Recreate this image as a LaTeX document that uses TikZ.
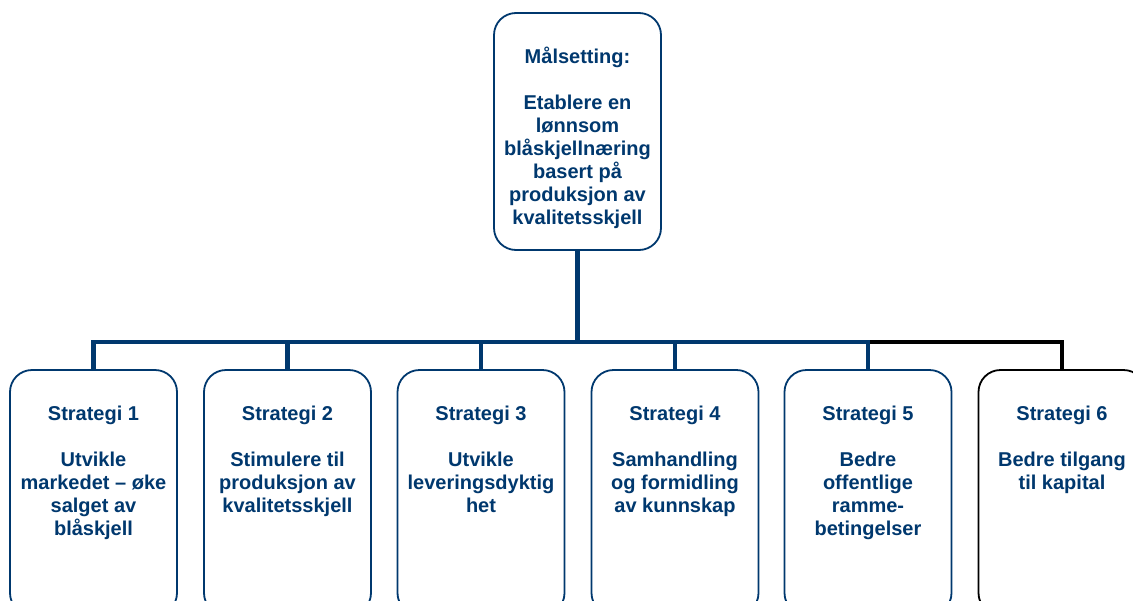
\documentclass[tikz,border=0pt]{standalone}
\usepackage{fontspec}
\setmainfont{Liberation Sans}
\definecolor{navy}{RGB}{0,56,110}
\tikzset{
  box/.style={draw=navy, line width=1.8pt, rounded corners=22pt, minimum width=167pt, inner sep=0pt, fill=white},
  topbox/.style={box, minimum height=237pt},
  stratbox/.style={box, minimum height=245pt},
  label/.style={anchor=north, inner sep=0pt, align=center, text=navy, font=\fontsize{20}{23}\selectfont\bfseries},
  conn/.style={draw=navy, line width=4.8pt, line cap=butt, line join=miter},
  connblack/.style={conn, draw=black}
}
\newcommand{\fs}{\rule{0pt}{20pt}}
\begin{document}
\begin{tikzpicture}[x=1pt,y=-1pt]
\useasboundingbox (0,0) rectangle (1133,600);
\clip (0,0) rectangle (1133,600);
\coordinate (bus) at (0,342);
% boxes
\node[topbox] (m) at (577.5,131.5) {};
\node[stratbox] (b1) at (93.5,492.5) {};
\node[stratbox] (b2) at (287.5,492.5) {};
\node[stratbox] (b3) at (481,492.5) {};
\node[stratbox] (b4) at (675,492.5) {};
\node[stratbox] (b5) at (868,492.5) {};
\node[stratbox, draw=black] (b6) at (1062,492.5) {};
% connectors
\draw[connblack] (b5.north |- bus) -| (b6.north);
\draw[conn] (m.south) -- (m.south |- bus) -| (b1.north);
\draw[conn] (m.south |- bus) -| (b5.north);
\draw[conn] (b2.north |- bus) -- (b2.north);
\draw[conn] (b3.north |- bus) -- (b3.north);
\draw[conn] (b4.north |- bus) -- (b4.north);
% labels
\node[label] (tm) at ([yshift=-31pt]m.north) {\fs Målsetting:\\[23pt] Etablere en\\ lønnsom\\ blåskjellnæring\\ basert på\\ produksjon av\\ kvalitetsskjell};
\node[label] (t1) at ([yshift=-31pt]b1.north) {\fs Strategi 1\\[23pt] Utvikle\\ markedet – øke\\ salget av\\ blåskjell};
\node[label] (t2) at ([yshift=-31pt]b2.north) {\fs Strategi 2\\[23pt] Stimulere til\\ produksjon av\\ kvalitetsskjell};
\node[label] (t3) at ([yshift=-31pt]b3.north) {\fs Strategi 3\\[23pt] Utvikle\\ leveringsdyktig\\ het};
\node[label] (t4) at ([yshift=-31pt]b4.north) {\fs Strategi 4\\[23pt] Samhandling\\ og formidling\\ av kunnskap};
\node[label] (t5) at ([yshift=-31pt]b5.north) {\fs Strategi 5\\[23pt] Bedre\\ offentlige\\ ramme-\\ betingelser};
\node[label] (t6) at ([yshift=-31pt]b6.north) {\fs Strategi 6\\[23pt] Bedre tilgang\\ til kapital};
\end{tikzpicture}
\end{document}
